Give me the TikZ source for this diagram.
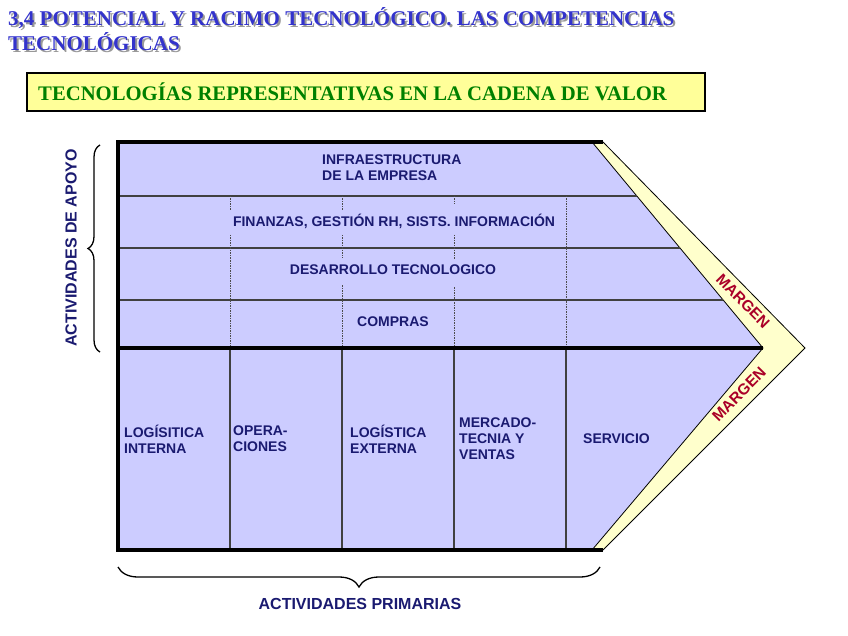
\documentclass[tikz,border=0pt]{standalone}
\usepackage{fontspec}
\setmainfont{Liberation Serif}
\setsansfont{Liberation Sans}
\usetikzlibrary{decorations.pathreplacing}

\definecolor{cadena}{RGB}{204,204,255}
\definecolor{margen}{RGB}{255,255,204}
\definecolor{marino}{RGB}{26,26,112}
\definecolor{rojo}{RGB}{170,0,40}
\definecolor{titulo}{RGB}{51,51,204}
\definecolor{verde}{RGB}{0,128,0}
\definecolor{cajaamarilla}{RGB}{255,255,153}

\tikzstyle{actividad} = [text=marino, font=\sffamily\bfseries\fontsize{14}{16}\selectfont, align=left, inner sep=0pt]
\tikzstyle{grupo} = [text=marino, font=\sffamily\bfseries\fontsize{16}{18}\selectfont, inner sep=0pt]
\tikzstyle{margentext} = [text=rojo, font=\sffamily\bfseries\fontsize{15.5}{18}\selectfont, inner sep=0pt]
\tikzstyle{grueso} = [line width=4pt]
\tikzstyle{fino} = [line width=1.3pt, draw=black!75]
\tikzstyle{punteado} = [line width=1pt, dash pattern=on 1.5pt off 1pt, draw=black!70]
\tikzstyle{llave} = [decorate, line width=1.3pt]

\begin{document}
\begin{tikzpicture}[x=1pt, y=-1pt]
    \useasboundingbox (0,0) rectangle (848,636);

    %titles
    \node (tituloshadow) [anchor=west, inner sep=0pt, align=left, text=black!40, font=\bfseries\fontsize{21}{25}\selectfont] at (10,31) {3,4 POTENCIAL Y RACIMO TECNOLÓGICO. LAS COMPETENCIAS\\TECNOLÓGICAS};
    \node (titulo) [anchor=west, inner sep=0pt, align=left, text=titulo, font=\bfseries\fontsize{21}{25}\selectfont] at (8,29) {3,4 POTENCIAL Y RACIMO TECNOLÓGICO. LAS COMPETENCIAS\\TECNOLÓGICAS};
    \draw [fill=cajaamarilla, line width=1.5pt] (27,73) rectangle (705,111);
    \node (subtitulo) [anchor=west, inner sep=0pt, text=verde, font=\bfseries\fontsize{20.7}{24}\selectfont] at (38,92) {TECNOLOGÍAS REPRESENTATIVAS EN LA CADENA DE VALOR};

    %cadena de valor
    \fill [cadena] (118,142) -- (592,142) -- (763,348) -- (592,550) -- (118,550) -- cycle;
    \draw [fill=margen, line width=0.8pt] (592,142) -- (603,142) -- (805,348) -- (603,550) -- (592,550) -- (763,348) -- cycle;

    %support rows
    \draw [fino] (118,196) -- (637,196);
    \draw [fino] (118,248) -- (680,248);
    \draw [fino] (118,300) -- (723,300);

    %dashed dividers
    \draw [punteado] (230,196) -- (230,210);
    \draw [punteado] (230,235) -- (230,348);
    \draw [punteado] (342,196) -- (342,210);
    \draw [punteado] (342,235) -- (342,258);
    \draw [punteado] (342,285) -- (342,348);
    \draw [punteado] (454,196) -- (454,204);
    \draw [punteado] (454,235) -- (454,260);
    \draw [punteado] (454,287) -- (454,348);
    \draw [punteado] (566,196) -- (566,348);

    %primary dividers
    \draw [fino] (230,348) -- (230,550);
    \draw [fino] (342,348) -- (342,550);
    \draw [fino] (454,348) -- (454,550);
    \draw [fino] (566,348) -- (566,550);

    %borders
    \draw [grueso] (603,142) -- (118,142) -- (118,550) -- (603,550);
    \draw [grueso] (118,348) -- (763,348);

    %support labels
    \node (infra) [actividad, anchor=west] at (322,168) {INFRAESTRUCTURA\\DE LA EMPRESA};
    \node (finanzas) [actividad] at (394,221) {FINANZAS, GESTIÓN RH, SISTS. INFORMACIÓN};
    \node (desarrollo) [actividad] at (393,270) {DESARROLLO TECNOLOGICO};
    \node (compras) [actividad] at (393,322) {COMPRAS};

    %primary labels
    \node (logint) [actividad, anchor=west] at (124,439) {LOGÍSITICA\\INTERNA};
    \node (oper) [actividad, anchor=west] at (233,439) {OPERA-\\CIONES};
    \node (logext) [actividad, anchor=west] at (350,439) {LOGÍSTICA\\EXTERNA};
    \node (mercado) [actividad, anchor=west] at (459,439) {MERCADO-\\TECNIA Y\\VENTAS};
    \node (servicio) [actividad, anchor=west] at (583,439) {SERVICIO};

    %margen
    \node (margensup) [margentext, rotate=-45.5] at (743,301) {MARGEN};
    \node (margeninf) [margentext, rotate=45.5] at (739,394) {MARGEN};

    %braces
    \draw [llave, decoration={brace, amplitude=12pt}] (100,352) -- (100,145);
    \draw [llave, decoration={brace, amplitude=20pt}] (600,567) -- (118,567);
    \node (apoyo) [grupo, rotate=90] at (71,248) {ACTIVIDADES DE APOYO};
    \node (primarias) [grupo] at (360,604) {ACTIVIDADES PRIMARIAS};
\end{tikzpicture}
\end{document}
